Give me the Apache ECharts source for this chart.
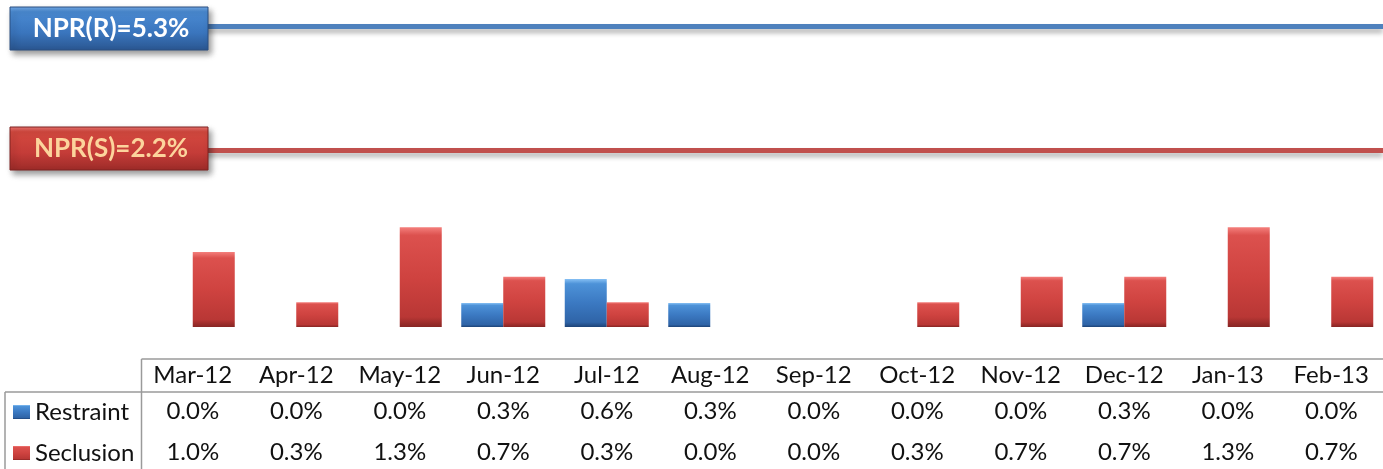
<!DOCTYPE html>
<html>
<head>
<meta charset="utf-8">
<script src="https://cdn.jsdelivr.net/npm/echarts@6/dist/echarts.min.js"></script>
<style>
  html, body { margin: 0; padding: 0; background: #fff; }
  #chart { width: 1383px; height: 469px; }
</style>
</head>
<body>
<div id="chart"></div>
<script>
// data (percent)
const months = ['Mar-12', 'Apr-12', 'May-12', 'Jun-12', 'Jul-12', 'Aug-12', 'Sep-12', 'Oct-12', 'Nov-12', 'Dec-12', 'Jan-13', 'Feb-13'];
const restraint = [0, 0, 0, 0.32, 0.64, 0.32, 0, 0, 0, 0.32, 0, 0];
const seclusion = [1.0, 0.33, 1.33, 0.67, 0.33, 0, 0, 0.33, 0.67, 0.67, 1.33, 0.67];
const nprR = 5.3;
const nprS = 2.2;

const FONT = 'Lato, "Open Sans", sans-serif';
const fmt = v => v.toFixed(1) + '%';

const redBar = new echarts.graphic.LinearGradient(0, 0, 0, 1, [
  { offset: 0, color: '#f47f7c' },
  { offset: 0.08, color: '#dc514e' },
  { offset: 0.5, color: '#cf4340' },
  { offset: 0.9, color: '#b93735' },
  { offset: 1, color: '#872523' }
]);
const blueBar = new echarts.graphic.LinearGradient(0, 0, 0, 1, [
  { offset: 0, color: '#86c0f4' },
  { offset: 0.1, color: '#4d92d8' },
  { offset: 0.5, color: '#3b79c2' },
  { offset: 0.9, color: '#2f64a7' },
  { offset: 1, color: '#1d4377' }
]);

const chart = echarts.init(document.getElementById('chart'));

function tableAxis(margin, formatter) {
  return {
    type: 'category',
    data: months,
    position: 'bottom',
    axisLine: { show: false },
    axisTick: { show: false },
    axisLabel: {
      interval: 0,
      margin: margin,
      verticalAlign: 'middle',
      fontSize: 24,
      fontFamily: FONT,
      color: '#111',
      formatter: formatter
    }
  };
}

const option = {
  animation: false,
  grid: { left: 141, width: 1254, top: 20, bottom: 142 },
  legend: {
    orient: 'vertical',
    left: 13,
    top: 400,
    padding: 0,
    itemGap: 17,
    itemWidth: 17,
    itemHeight: 14,
    icon: 'rect',
    data: ['Restraint', 'Seclusion'],
    textStyle: { fontSize: 24, fontFamily: FONT, color: '#111', padding: [0, 0, 0, 0] }
  },
  xAxis: [
    tableAxis(48, v => v),
    tableAxis(84, (v, i) => fmt(restraint[i])),
    tableAxis(125, (v, i) => fmt(seclusion[i]))
  ],
  yAxis: [
    { type: 'value', min: 0, max: 4.093, show: false },
    { type: 'value', min: -2.225, max: 5.45, show: false }
  ],
  series: [
    {
      name: 'Restraint',
      type: 'bar',
      data: restraint,
      barWidth: 42,
      barGap: 0,
      itemStyle: {
        color: blueBar,
        shadowBlur: 4, shadowOffsetX: 2, shadowOffsetY: 3, shadowColor: 'rgba(0,0,0,0.35)'
      }
    },
    {
      name: 'Seclusion',
      type: 'bar',
      data: seclusion,
      barWidth: 42,
      barGap: 0,
      itemStyle: {
        color: redBar,
        shadowBlur: 4, shadowOffsetX: 2, shadowOffsetY: 3, shadowColor: 'rgba(0,0,0,0.35)'
      }
    },
    {
      name: 'NPR(R)',
      type: 'line',
      yAxisIndex: 1,
      data: [],
      markLine: {
        silent: true,
        symbol: 'none',
        label: { show: false },
        lineStyle: {
          type: 'solid', width: 5, color: '#4f81bd',
          shadowBlur: 5, shadowOffsetY: 4, shadowColor: 'rgba(0,0,0,0.3)'
        },
        data: [{ yAxis: nprR }]
      }
    },
    {
      name: 'NPR(S)',
      type: 'line',
      yAxisIndex: 1,
      data: [],
      markLine: {
        silent: true,
        symbol: 'none',
        label: { show: false },
        lineStyle: {
          type: 'solid', width: 5, color: '#c0504d',
          shadowBlur: 5, shadowOffsetY: 4, shadowColor: 'rgba(0,0,0,0.3)'
        },
        data: [{ yAxis: nprS }]
      }
    }
  ]
};

chart.setOption(option);

// label boxes sit on the reference lines, table rules drawn round the data table
function labelBox(top, text, stops, border, textColor) {
  return {
    type: 'group',
    x: 10,
    y: top,
    children: [
      {
        type: 'rect',
        z: 100,
        shape: { x: 0, y: 0, width: 198, height: 43 },
        style: {
          fill: new echarts.graphic.LinearGradient(0, 0, 0, 1, stops),
          stroke: border, lineWidth: 1,
          shadowBlur: 6, shadowOffsetX: 3, shadowOffsetY: 4, shadowColor: 'rgba(0,0,0,0.4)'
        }
      },
      {
        type: 'text',
        z: 101,
        x: 101,
        y: 22,
        style: {
          text: text,
          fill: textColor,
          font: 'bold 26px ' + FONT,
          textAlign: 'center',
          textVerticalAlign: 'middle'
        }
      }
    ]
  };
}

const yR = chart.convertToPixel({ yAxisIndex: 1 }, nprR);
const yS = chart.convertToPixel({ yAxisIndex: 1 }, nprS);
const rule = { stroke: '#9a9a9a', lineWidth: 1.5 };

chart.setOption({
  graphic: [
    labelBox(yR - 19, 'NPR(R)=' + nprR + '%', [
      { offset: 0, color: '#74acea' },
      { offset: 0.12, color: '#4a8ad2' },
      { offset: 0.6, color: '#3a75bd' },
      { offset: 1, color: '#2a5690' }
    ], '#2a4f80', '#ffffff'),
    labelBox(yS - 23, 'NPR(S)=' + nprS + '%', [
      { offset: 0, color: '#ec7572' },
      { offset: 0.12, color: '#d4493f' },
      { offset: 0.6, color: '#c43c38' },
      { offset: 1, color: '#9c2b28' }
    ], '#7e2220', '#fcd49c'),
    { type: 'line', shape: { x1: 141.5, y1: 359, x2: 1383, y2: 359 }, style: rule },
    { type: 'line', shape: { x1: 5, y1: 392, x2: 1383, y2: 392 }, style: rule },
    { type: 'line', shape: { x1: 141.5, y1: 359, x2: 141.5, y2: 469 }, style: rule },
    { type: 'line', shape: { x1: 5, y1: 392, x2: 5, y2: 469 }, style: rule }
  ]
});
</script>
</body>
</html>
